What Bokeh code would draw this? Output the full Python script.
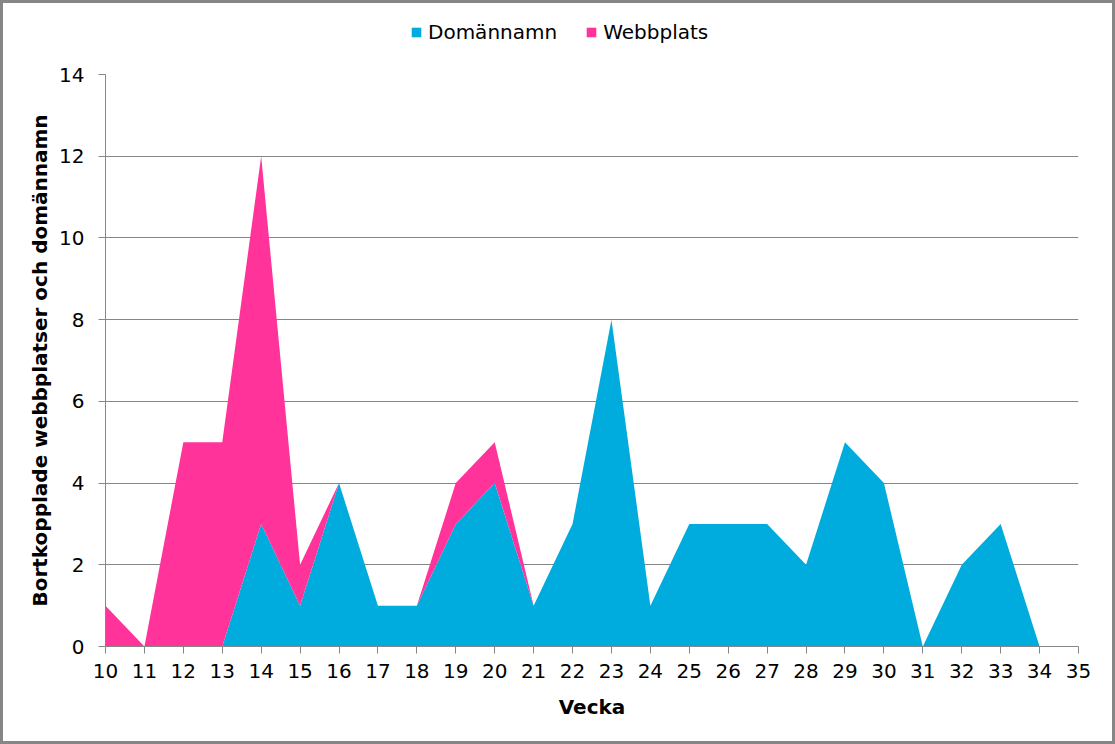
from bokeh.plotting import figure
from bokeh.layouts import column
from bokeh.models import ColumnDataSource, FixedTicker, Legend, LegendItem
from bokeh.embed import file_html
from bokeh.resources import INLINE

weeks = list(range(10, 35))
domannamn = [0, 0, 0, 0, 3, 1, 4, 1, 1, 3, 4, 1, 3, 8, 1, 3, 3, 3, 2, 5, 4, 0, 2, 3, 0]
webbplats = [1, 0, 5, 5, 9, 1, 0, 0, 0, 1, 1, 0, 0, 0, 0, 0, 0, 0, 0, 0, 0, 0, 0, 0, 0]
x_ticks = list(range(10, 36))
y_ticks = list(range(0, 15, 2))
series = ["Domännamn", "Webbplats"]
colors = ["#00ACDD", "#FF3399"]

FONT = "DejaVu Sans"
GRAY = "#868686"

src = ColumnDataSource(dict(week=weeks, Domännamn=domannamn, Webbplats=webbplats))

# ---- legend strip (its frame is aligned with the main chart's frame) ----
lg = figure(width=1109, height=55, output_backend="svg", toolbar_location=None,
            x_range=(0, 1), y_range=(0, 1),
            min_border=0, min_border_left=0, min_border_right=0,
            min_border_top=0, min_border_bottom=0)
lg.axis.visible = False
lg.grid.visible = False
lg.outline_line_color = None
lg.border_fill_color = "white"
# legend proxies: the stacked series, drawn off the strip's visible range
proxies = lg.varea_stack(stackers=series, x="week", color=colors, source=src)
legend = Legend(items=[LegendItem(label=s, renderers=[r]) for s, r in zip(series, proxies)],
                orientation="horizontal", location=(305, 14),
                label_text_font=FONT, label_text_font_size="20px", label_text_color="black",
                glyph_width=12, glyph_height=12, label_standoff=6, spacing=28,
                padding=4, margin=0, border_line_color=None, background_fill_alpha=0)
lg.add_layout(legend)

# ---- main chart ----
p = figure(width=1109, height=683, output_backend="svg", toolbar_location=None,
           x_range=(10, 35), y_range=(0, 14),
           min_border_left=102, min_border_right=34, min_border_top=16, min_border_bottom=95)
p.outline_line_color = None
p.background_fill_color = "white"
p.border_fill_color = "white"

rs = p.varea_stack(stackers=series, x="week", color=colors, source=src)

p.xgrid.grid_line_color = None
p.ygrid.grid_line_color = GRAY
p.ygrid.grid_line_width = 1
p.ygrid.level = "underlay"

p.xaxis.ticker = FixedTicker(ticks=x_ticks)
p.yaxis.ticker = FixedTicker(ticks=y_ticks)
for ax in (p.xaxis[0], p.yaxis[0]):
    ax.axis_line_color = GRAY
    ax.major_tick_line_color = GRAY
    ax.major_tick_out = 7
    ax.major_tick_in = 0
    ax.minor_tick_line_color = None
    ax.major_label_text_font = FONT
    ax.major_label_text_font_size = "20px"
    ax.major_label_text_color = "black"
    ax.axis_label_text_font = FONT
    ax.axis_label_text_font_size = "20px"
    ax.axis_label_text_font_style = "bold"
    ax.axis_label_text_color = "black"
p.xaxis.axis_label = "Vecka"
p.yaxis.axis_label = "Bortkopplade webbplatser och domännamn"
p.xaxis.major_label_standoff = 10
p.yaxis.major_label_standoff = 14
p.xaxis.axis_label_standoff = 14
p.yaxis.axis_label_standoff = 4

layout = column(lg, p, spacing=0)
layout.styles = {"border": "3px solid #868686", "background-color": "white"}

open("out.html", "w").write(file_html(layout, INLINE))
